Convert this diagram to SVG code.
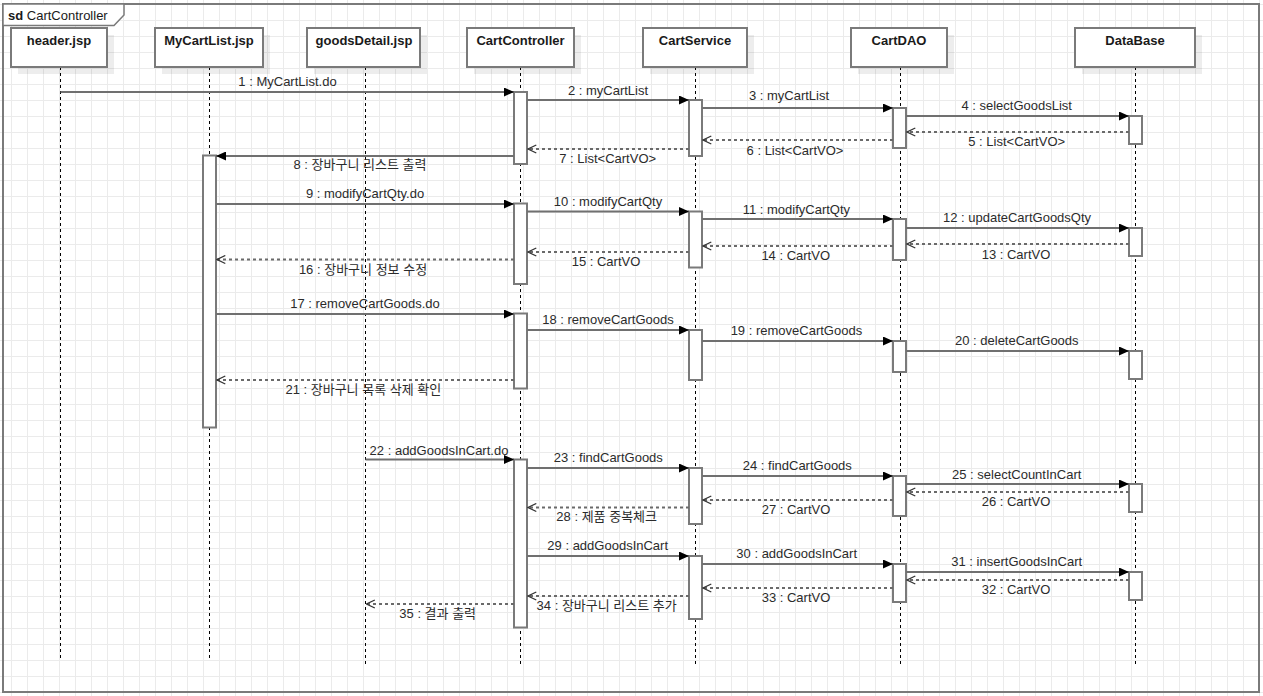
<svg xmlns="http://www.w3.org/2000/svg" width="1263" height="696" viewBox="0 0 1263 696">
<defs>
<pattern id="grid" width="16" height="16" patternUnits="userSpaceOnUse">
<path d="M11.5,0 V16 M0,4.5 H16" stroke="#ebebeb" stroke-width="1" fill="none"/>
</pattern>
<marker id="filled" viewBox="0 0 10 9" refX="10" refY="4.5" markerWidth="10" markerHeight="9" orient="auto" markerUnits="userSpaceOnUse">
<path d="M0,0 L10,4.5 L0,9 Z" fill="#000"/>
</marker>
<marker id="open" viewBox="0 0 10 10" refX="9.3" refY="5" markerWidth="10" markerHeight="10" orient="auto" markerUnits="userSpaceOnUse">
<path d="M1,1 L9.3,5 L1,9" fill="none" stroke="#333" stroke-width="1.3"/>
</marker>
</defs>
<style>
.box{fill:#fff;stroke:#7a7a7a;stroke-width:2}
.shadow{fill:#000;fill-opacity:0.07}
.title{font-family:"Liberation Sans","Noto Sans CJK KR",Arial,sans-serif;font-size:13px;font-weight:bold;fill:#1a1a1a;text-anchor:middle}
.life{stroke:#000;stroke-width:1;stroke-dasharray:3 3;fill:none}
.bar{fill:#fff;stroke:#7a7a7a;stroke-width:2}
.call{stroke:#707070;stroke-width:2;fill:none;marker-end:url(#filled)}
.ret{stroke:#6a6a6a;stroke-width:2;stroke-dasharray:3 3;fill:none;marker-end:url(#open)}
.lbl{font-family:"Liberation Sans","Noto Sans CJK KR",Arial,sans-serif;font-size:13px;fill:#2b2b2b;text-anchor:middle}
.frame{fill:none;stroke:#7a7a7a;stroke-width:2}
.ftag{fill:#fff;stroke:#7a7a7a;stroke-width:1.5}
.ftxt{font-family:"Liberation Sans",Arial,sans-serif;font-size:13px;fill:#1a1a1a}
</style>
<rect x="0" y="0" width="1263" height="696" fill="#fff"/>
<rect x="0" y="0" width="1263" height="696" fill="url(#grid)"/>

<g id="frame">
<rect class="frame" x="3" y="4" width="1256" height="688"/>
<path class="ftag" d="M3,4 H124 V15 L114,25.5 H3 Z"/>
<text class="ftxt" x="8" y="19.5"><tspan font-weight="bold">sd</tspan> CartController</text>
</g>

<g id="lifeline-header">
<rect class="shadow" x="18" y="35" width="96" height="39"/>
<line class="life" x1="60.5" y1="67" x2="60.5" y2="659"/>
<rect class="box" x="11" y="28" width="96" height="39"/>
<text class="title" x="59" y="45">header.jsp</text>
</g>

<g id="lifeline-mycartlist">
<rect class="shadow" x="162" y="35" width="108" height="39"/>
<line class="life" x1="209.5" y1="67" x2="209.5" y2="659"/>
<rect class="box" x="155" y="28" width="108" height="39"/>
<text class="title" x="209" y="45">MyCartList.jsp</text>
<rect class="bar" x="203" y="155.5" width="13" height="272"/>
</g>

<g id="lifeline-goodsdetail">
<rect class="shadow" x="314" y="35" width="113" height="39"/>
<line class="life" x1="365.5" y1="67" x2="365.5" y2="665"/>
<rect class="box" x="307" y="28" width="113" height="39"/>
<text class="title" x="364" y="45">goodsDetail.jsp</text>
</g>

<g id="lifeline-cartcontroller">
<rect class="shadow" x="474" y="35" width="107" height="39"/>
<line class="life" x1="520.5" y1="67" x2="520.5" y2="664"/>
<rect class="box" x="467" y="28" width="107" height="39"/>
<text class="title" x="520.5" y="45">CartController</text>
<rect class="bar" x="514" y="92" width="13" height="72"/>
<rect class="bar" x="514" y="203.5" width="13" height="80.5"/>
<rect class="bar" x="514" y="313.5" width="13" height="75"/>
<rect class="bar" x="514" y="459.5" width="13" height="168"/>
</g>

<g id="lifeline-cartservice">
<rect class="shadow" x="650" y="35" width="104" height="39"/>
<line class="life" x1="695.5" y1="67" x2="695.5" y2="664"/>
<rect class="box" x="643" y="28" width="104" height="39"/>
<text class="title" x="695" y="45">CartService</text>
<rect class="bar" x="689" y="100" width="13" height="56"/>
<rect class="bar" x="689" y="211.5" width="13" height="56"/>
<rect class="bar" x="689" y="330" width="13" height="50"/>
<rect class="bar" x="689" y="468" width="13" height="56"/>
<rect class="bar" x="689" y="556" width="13" height="63"/>
</g>

<g id="lifeline-cartdao">
<rect class="shadow" x="858" y="35" width="96" height="39"/>
<line class="life" x1="900.5" y1="67" x2="900.5" y2="664"/>
<rect class="box" x="851" y="28" width="96" height="39"/>
<text class="title" x="899" y="45">CartDAO</text>
<rect class="bar" x="893" y="108" width="13" height="40"/>
<rect class="bar" x="893" y="219" width="13" height="41"/>
<rect class="bar" x="893" y="341" width="13" height="31"/>
<rect class="bar" x="893" y="476" width="13" height="40"/>
<rect class="bar" x="893" y="564" width="13" height="38"/>
</g>

<g id="lifeline-database">
<rect class="shadow" x="1082" y="35" width="120" height="39"/>
<line class="life" x1="1135.5" y1="67" x2="1135.5" y2="664"/>
<rect class="box" x="1075" y="28" width="120" height="39"/>
<text class="title" x="1135" y="45">DataBase</text>
<rect class="bar" x="1129" y="116" width="13" height="28"/>
<rect class="bar" x="1129" y="228" width="13" height="28"/>
<rect class="bar" x="1129" y="351" width="13" height="28"/>
<rect class="bar" x="1129" y="484" width="13" height="28"/>
<rect class="bar" x="1129" y="572" width="13" height="28"/>
</g>

<g id="connectors">
<line class="call" x1="60.5" y1="92" x2="514" y2="92"/>
<line class="call" x1="527" y1="100" x2="689" y2="100"/>
<line class="call" x1="702" y1="108" x2="893" y2="108"/>
<line class="call" x1="906" y1="116" x2="1129" y2="116"/>
<line class="ret" x1="1129" y1="132" x2="907" y2="132"/>
<line class="ret" x1="893" y1="140" x2="703" y2="140"/>
<line class="ret" x1="689" y1="149" x2="528" y2="149"/>
<line class="call" x1="514" y1="156" x2="216" y2="156"/>
<line class="call" x1="216" y1="204" x2="514" y2="204"/>
<line class="call" x1="527" y1="211.5" x2="689" y2="211.5"/>
<line class="call" x1="702" y1="219" x2="893" y2="219"/>
<line class="call" x1="906" y1="228" x2="1129" y2="228"/>
<line class="ret" x1="1129" y1="244" x2="907" y2="244"/>
<line class="ret" x1="893" y1="246" x2="703" y2="246"/>
<line class="ret" x1="689" y1="252" x2="528" y2="252"/>
<line class="ret" x1="514" y1="259.5" x2="217" y2="259.5"/>
<line class="call" x1="216" y1="314" x2="514" y2="314"/>
<line class="call" x1="527" y1="330" x2="689" y2="330"/>
<line class="call" x1="702" y1="341" x2="893" y2="341"/>
<line class="call" x1="906" y1="351" x2="1129" y2="351"/>
<line class="ret" x1="514" y1="380" x2="217" y2="380"/>
<line class="call" x1="365.5" y1="459.5" x2="514" y2="459.5"/>
<line class="call" x1="527" y1="468" x2="689" y2="468"/>
<line class="call" x1="702" y1="476" x2="893" y2="476"/>
<line class="call" x1="906" y1="484" x2="1129" y2="484"/>
<line class="ret" x1="1129" y1="492" x2="907" y2="492"/>
<line class="ret" x1="893" y1="500" x2="703" y2="500"/>
<line class="ret" x1="689" y1="507.5" x2="528" y2="507.5"/>
<line class="call" x1="527" y1="556" x2="689" y2="556"/>
<line class="call" x1="702" y1="564" x2="893" y2="564"/>
<line class="call" x1="906" y1="572" x2="1129" y2="572"/>
<line class="ret" x1="1129" y1="580" x2="907" y2="580"/>
<line class="ret" x1="893" y1="588" x2="703" y2="588"/>
<line class="ret" x1="689" y1="596" x2="528" y2="596"/>
<line class="ret" x1="514" y1="604" x2="366.5" y2="604"/>

<text class="lbl" x="287.5" y="86.2">1 : MyCartList.do</text>
<text class="lbl" x="608" y="94.5">2 : myCartList</text>
<text class="lbl" x="789" y="99.5">3 : myCartList</text>
<text class="lbl" x="1016.7" y="110.2">4 : selectGoodsList</text>
<text class="lbl" x="1016.7" y="146.2">5 : List&lt;CartVO&gt;</text>
<text class="lbl" x="795" y="154.5">6 : List&lt;CartVO&gt;</text>
<text class="lbl" x="607.7" y="162.5">7 : List&lt;CartVO&gt;</text>
<text class="lbl" x="360" y="168.8">8 : 장바구니 리스트 출력</text>
<text class="lbl" x="365" y="197.8">9 : modifyCartQty.do</text>
<text class="lbl" x="608" y="205.5">10 : modifyCartQty</text>
<text class="lbl" x="796.4" y="213.5">11 : modifyCartQty</text>
<text class="lbl" x="1017" y="222.2">12 : updateCartGoodsQty</text>
<text class="lbl" x="1016" y="258.5">13 : CartVO</text>
<text class="lbl" x="795.7" y="260.2">14 : CartVO</text>
<text class="lbl" x="606" y="265.5">15 : CartVO</text>
<text class="lbl" x="363" y="273.5">16 : 장바구니 정보 수정</text>
<text class="lbl" x="365" y="307.8">17 : removeCartGoods.do</text>
<text class="lbl" x="608" y="323.8">18 : removeCartGoods</text>
<text class="lbl" x="796.4" y="335.2">19 : removeCartGoods</text>
<text class="lbl" x="1016.8" y="345.2">20 : deleteCartGoods</text>
<text class="lbl" x="363.3" y="393.5">21 : 장바구니 목록 삭제 확인</text>
<text class="lbl" x="439" y="454.5">22 : addGoodsInCart.do</text>
<text class="lbl" x="608.3" y="462.2">23 : findCartGoods</text>
<text class="lbl" x="797.3" y="470.2">24 : findCartGoods</text>
<text class="lbl" x="1016.7" y="478.5">25 : selectCountInCart</text>
<text class="lbl" x="1016" y="506.2">26 : CartVO</text>
<text class="lbl" x="796" y="513.8">27 : CartVO</text>
<text class="lbl" x="606.7" y="521.2">28 : 제품 중복체크</text>
<text class="lbl" x="607.7" y="549.5">29 : addGoodsInCart</text>
<text class="lbl" x="796.7" y="557.8">30 : addGoodsInCart</text>
<text class="lbl" x="1016.7" y="566.2">31 : insertGoodsInCart</text>
<text class="lbl" x="1016" y="593.8">32 : CartVO</text>
<text class="lbl" x="796" y="601.8">33 : CartVO</text>
<text class="lbl" x="606.7" y="609.5">34 : 장바구니 리스트 추가</text>
<text class="lbl" x="437.7" y="617.8">35 : 결과 출력</text>
</g>
</svg>
